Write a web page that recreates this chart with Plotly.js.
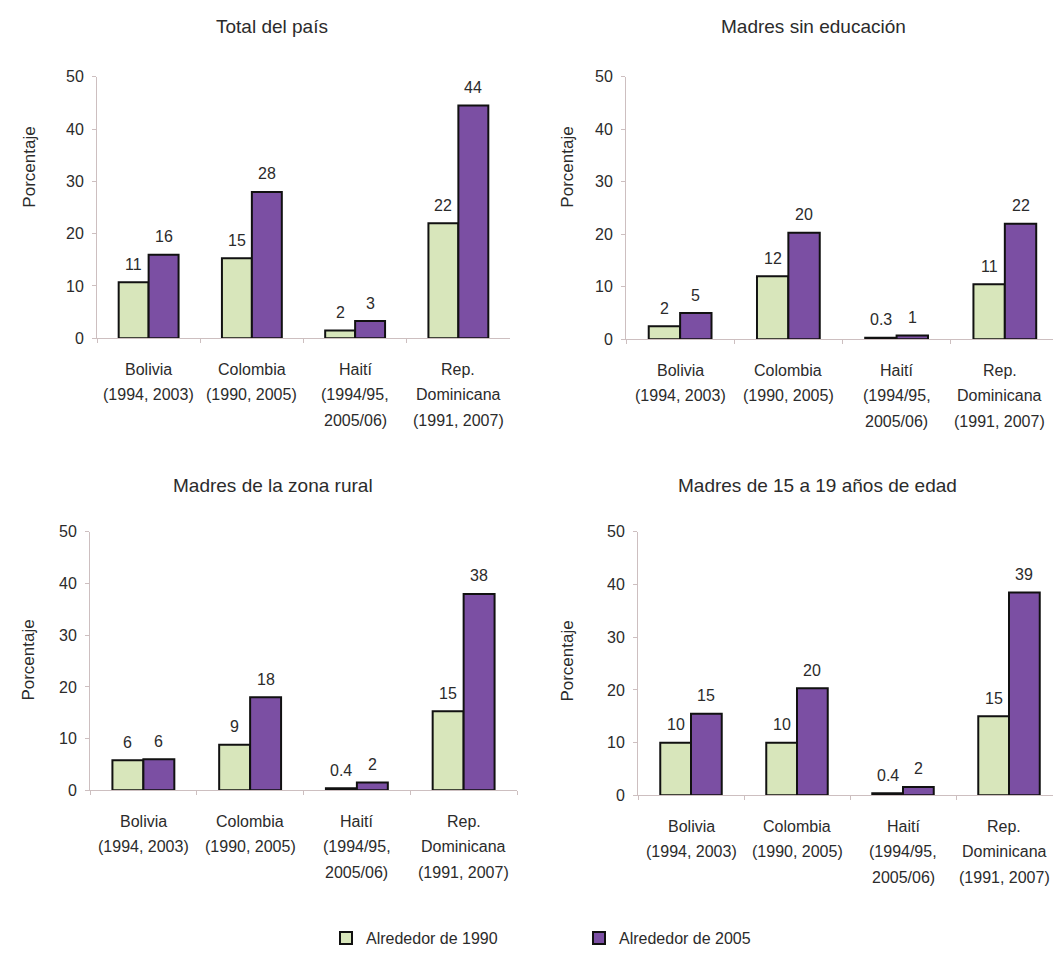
<!DOCTYPE html>
<html>
<head>
<meta charset="utf-8">
<script src="https://cdn.plot.ly/plotly-3.0.1.min.js"></script>
<style>html,body{margin:0;padding:0;background:#fff;}#chart{width:1053px;height:955px;}</style>
</head>
<body>
<div id="chart"></div>
<script>
const categories = [
  "Bolivia<br>(1994, 2003)",
  "Colombia<br>(1990, 2005)",
  "Haití<br>(1994/95,<br>2005/06)",
  "Rep.<br>Dominicana<br>(1991, 2007)"
];
const seriesNames = ["Alrededor de 1990", "Alrededor de 2005"];
const panelTitles = ["Total del país", "Madres sin educación", "Madres de la zona rural", "Madres de 15 a 19 años de edad"];
const yTitle = "Porcentaje";

// Total del país
const total1990 = [10.7, 15.3, 1.5, 22];
const total2005 = [16, 28, 3.3, 44.5];
const totalLbl1990 = ["11", "15", "2", "22"];
const totalLbl2005 = ["16", "28", "3", "44"];
// Madres sin educación
const sinEdu1990 = [2.5, 12, 0.3, 10.5];
const sinEdu2005 = [5, 20.3, 0.7, 22];
const sinEduLbl1990 = ["2", "12", "0.3", "11"];
const sinEduLbl2005 = ["5", "20", "1", "22"];
// Madres de la zona rural
const rural1990 = [5.8, 8.8, 0.4, 15.3];
const rural2005 = [6, 18, 1.5, 38];
const ruralLbl1990 = ["6", "9", "0.4", "15"];
const ruralLbl2005 = ["6", "18", "2", "38"];
// Madres de 15 a 19 años
const teen1990 = [10, 10, 0.4, 15];
const teen2005 = [15.5, 20.3, 1.6, 38.5];
const teenLbl1990 = ["10", "10", "0.4", "15"];
const teenLbl2005 = ["15", "20", "2", "39"];

const yTicks = [0, 10, 20, 30, 40, 50];

const green = "#d8e6bb";
const purple = "#7b4fa3";
const txt = "#2b2b2b";
const axisCol = "#cdbfc0";
const FONT = "Liberation Sans, Arial, sans-serif";
const BARGAP = 0.42;

const panels = [
  {v1: total1990, v2: total2005, l1: totalLbl1990, l2: totalLbl2005},
  {v1: sinEdu1990, v2: sinEdu2005, l1: sinEduLbl1990, l2: sinEduLbl2005},
  {v1: rural1990, v2: rural2005, l1: ruralLbl1990, l2: ruralLbl2005},
  {v1: teen1990, v2: teen2005, l1: teenLbl1990, l2: teenLbl2005}
];

const traces = [];
const annotations = [];
panels.forEach((p, i) => {
  const xa = i === 0 ? "x" : "x" + (i + 1);
  const ya = i === 0 ? "y" : "y" + (i + 1);
  const rightPanel = (i % 2) === 1;
  [[p.v1, p.l1, green, 0], [p.v2, p.l2, purple, 1]].forEach(([vals, lbls, col, s]) => {
    traces.push({
      type: "bar",
      x: categories,
      y: vals,
      marker: {color: col, line: {color: "#111111", width: 2}},
      name: seriesNames[s],
      legendgroup: seriesNames[s],
      showlegend: i === 0,
      xaxis: xa,
      yaxis: ya,
      hoverinfo: "skip"
    });
    // value labels above each bar (bar centre = category index ± quarter of group width)
    const off = (s === 0 ? -1 : 1) * (1 - BARGAP) / 4;
    vals.forEach((v, c) => {
      annotations.push({
        text: lbls[c], xref: xa, yref: ya, x: c + off, y: v,
        xanchor: "center", yanchor: "middle", yshift: 18, showarrow: false,
        font: {family: FONT, size: 16, color: txt}
      });
    });
  });
  // category labels, one annotation per line for wider line spacing
  categories.forEach((cat, c) => {
    const lastRight = rightPanel && c === categories.length - 1;
    cat.split("<br>").forEach((line, k) => {
      annotations.push({
        text: line, xref: xa, yref: ya, x: c, y: 0,
        xanchor: "center", yanchor: "middle", yshift: -(31 + 25.5 * k),
        xshift: lastRight ? -5 : 0, showarrow: false,
        font: {family: FONT, size: 16, color: txt}
      });
    });
  });
});

function xAxis(domain, rmax, anchor) {
  return {
    domain: domain, anchor: anchor, type: "category",
    range: [-0.5, rmax],
    showline: true, linecolor: axisCol, linewidth: 1,
    ticks: "outside", tickson: "boundaries", ticklen: 4, tickcolor: axisCol,
    showticklabels: false,
    showgrid: false, zeroline: false, fixedrange: true
  };
}
function yAxis(domain, anchor) {
  return {
    domain: domain, anchor: anchor, range: [0, 50],
    tickvals: yTicks,
    showline: true, linecolor: axisCol, linewidth: 1,
    ticks: "outside", ticklen: 4, tickcolor: axisCol,
    tickfont: {family: FONT, size: 16, color: txt},
    ticklabelstandoff: 5,
    showgrid: false, zeroline: false, fixedrange: true
  };
}

const W = 1053, H = 955;
const px = v => v / W, py = v => 1 - v / H;

[[272, 27], [813, 27], [273, 487], [817, 487]].forEach(([x, y], i) => {
  annotations.push({text: panelTitles[i], x: px(x), y: py(y), xref: "paper", yref: "paper",
    xanchor: "center", yanchor: "middle", showarrow: false,
    font: {family: FONT, size: 19, color: txt}});
});
[[30, 168], [568, 168], [29, 662], [568, 663]].forEach(([x, y]) => {
  annotations.push({text: yTitle, textangle: -90, xref: "paper", yref: "paper",
    x: px(x), y: py(y), xanchor: "center", yanchor: "middle", showarrow: false,
    font: {family: FONT, size: 17, color: txt}});
});

const layout = {
  width: W, height: H,
  margin: {l: 0, r: 0, t: 0, b: 0},
  paper_bgcolor: "#ffffff", plot_bgcolor: "rgba(0,0,0,0)",
  barmode: "group", bargap: BARGAP, bargroupgap: 0,
  font: {family: FONT, color: txt},
  showlegend: true,
  legend: {
    orientation: "h", x: px(326), y: py(940), xanchor: "left", yanchor: "middle",
    font: {family: FONT, size: 16, color: txt},
    entrywidth: 208, entrywidthmode: "pixels",
    traceorder: "normal", bgcolor: "rgba(0,0,0,0)"
  },
  xaxis: xAxis([px(97), px(510)], 3.5, "y"),
  yaxis: yAxis([py(339), py(77)], "x"),
  xaxis2: xAxis([px(626), 1], 3.445, "y2"),
  yaxis2: yAxis([py(340), py(77)], "x2"),
  xaxis3: xAxis([px(90), px(517)], 3.5, "y3"),
  yaxis3: yAxis([py(792), py(533)], "x3"),
  xaxis4: xAxis([px(638), 1], 3.415, "y4"),
  yaxis4: yAxis([py(797), py(533)], "x4"),
  annotations: annotations
};

Plotly.newPlot("chart", traces, layout, {staticPlot: true, displayModeBar: false});
</script>
</body>
</html>
